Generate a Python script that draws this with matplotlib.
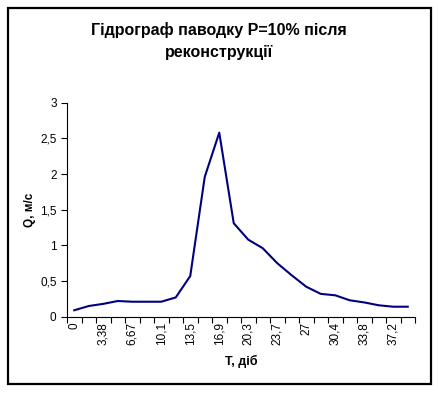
import matplotlib
matplotlib.use("Agg")
import matplotlib.pyplot as plt
from matplotlib.patches import Rectangle

# Days (category axis) and discharge values
days = ["0", "1,69", "3,38", "5,07", "6,67", "8,4", "10,1", "11,8",
        "13,5", "15,2", "16,9", "18,6", "20,3", "22", "23,7", "25,4",
        "27", "28,7", "30,4", "32,1", "33,8", "35,5", "37,2", "38,9"]
q = [0.09, 0.15, 0.18, 0.22, 0.21, 0.21, 0.21, 0.27,
     0.57, 1.96, 2.58, 1.31, 1.08, 0.96, 0.75, 0.58,
     0.42, 0.32, 0.30, 0.23, 0.20, 0.16, 0.14, 0.14]
y_ticks = [0, 0.5, 1, 1.5, 2, 2.5, 3]
y_tick_labels = ["0", "0,5", "1", "1,5", "2", "2,5", "3"]

plt.rcParams["font.family"] = ["Liberation Sans", "DejaVu Sans"]

W, H = 438, 393
fig = plt.figure(figsize=(W / 100, H / 100), dpi=100)
ax = fig.add_axes([67 / W, 1 - 316.7 / H, (415 - 67) / W, (316.7 - 102.7) / H])

x = list(range(len(days)))
ax.plot(x, q, color="#000080", linewidth=1.5)

ax.set_xlim(-0.5, len(days) - 0.5)
ax.set_ylim(0, 3)
ax.set_yticks(y_ticks)
ax.set_yticklabels(y_tick_labels, fontsize=8.5)

# ticks on category boundaries, labels on every second category
ax.set_xticks([i - 0.5 for i in range(len(days) + 1)])
ax.set_xticklabels([])
ax.set_xticks(x[::2], minor=True)
ax.set_xticklabels(days[::2], minor=True, rotation=90, fontsize=8.5)
ax.tick_params(axis="x", which="major", length=4, width=0.8, direction="out")
ax.tick_params(axis="x", which="minor", length=0, pad=4)
ax.tick_params(axis="y", length=4, width=0.8, direction="out")

for s in ["top", "right"]:
    ax.spines[s].set_visible(False)
for s in ["left", "bottom"]:
    ax.spines[s].set_linewidth(0.8)

ax.set_xlabel("T, діб", fontsize=9, fontweight="bold", labelpad=7)
ax.set_ylabel("Q, м/с", fontsize=8.5, fontweight="bold", labelpad=3)

fig.text(219 / W, 1 - 30 / H, "Гідрограф паводку Р=10% після", ha="center",
         va="center", fontsize=11.5, fontweight="bold")
fig.text(219 / W, 1 - 52 / H, "реконструкції", ha="center",
         va="center", fontsize=11.5, fontweight="bold")

fig.patches.append(Rectangle((8 / W, 1 - 384 / H), (431 - 8) / W, (384 - 8) / H,
                             transform=fig.transFigure, fill=False,
                             edgecolor="black", linewidth=1.6))

fig.savefig("out.png", dpi=100)
